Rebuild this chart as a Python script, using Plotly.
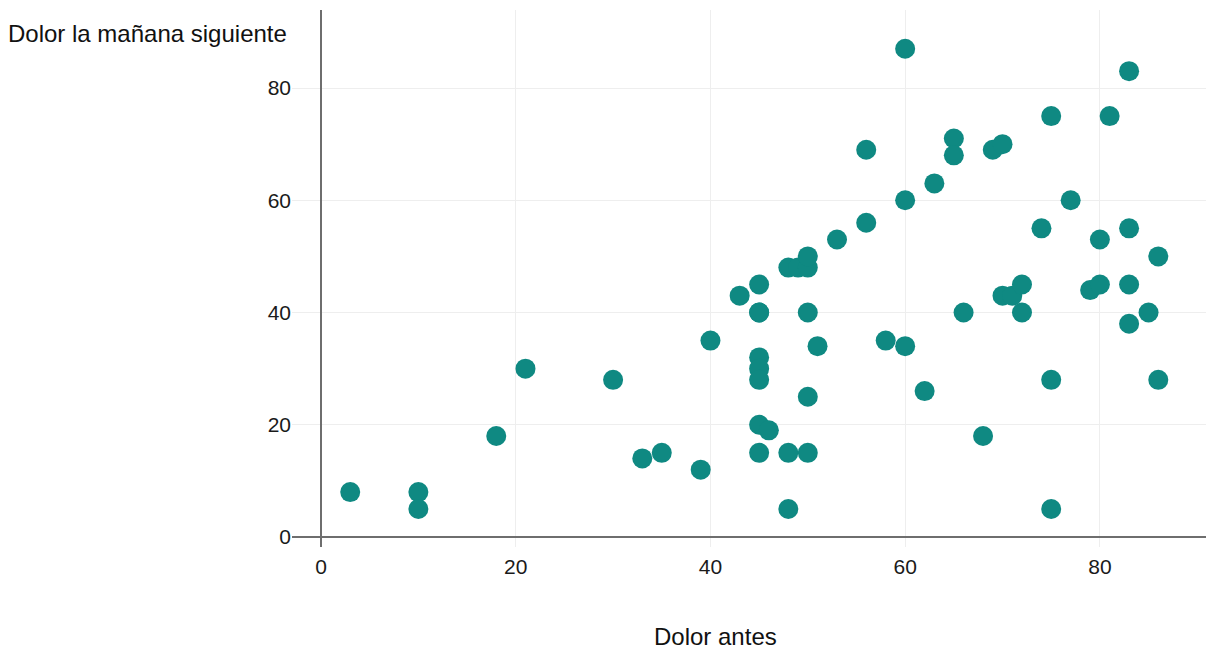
import plotly.graph_objects as go

# Pain scores: before (x) and the following morning (y)
dolor_antes = [3, 10, 10, 18, 21, 30, 33, 35, 39, 40,
               43, 45, 45, 45, 45, 45, 45, 45, 45, 46,
               48, 49, 50, 50, 48, 48, 50, 50, 50, 51,
               53, 56, 56, 58, 60, 60, 60, 62, 63, 65,
               65, 66, 68, 69, 70, 70, 71, 72, 72, 74,
               75, 75, 75, 77, 79, 80, 80, 81, 83, 83,
               83, 83, 85, 86, 86]
dolor_manana = [8, 8, 5, 18, 30, 28, 14, 15, 12, 35,
                43, 45, 40, 32, 30, 28, 20, 15, 40, 19,
                48, 48, 48, 50, 15, 5, 40, 25, 15, 34,
                53, 69, 56, 35, 87, 60, 34, 26, 63, 71,
                68, 40, 18, 69, 70, 43, 43, 45, 40, 55,
                75, 28, 5, 60, 44, 45, 53, 75, 83, 55,
                45, 38, 40, 50, 28]

x_ticks = [0, 20, 40, 60, 80]
y_ticks = [0, 20, 40, 60, 80]

FONT = "Liberation Sans, Arial, sans-serif"
TEAL = "#0F8982"

fig = go.Figure(
    go.Scatter(
        x=dolor_antes,
        y=dolor_manana,
        mode="markers",
        marker=dict(size=20, color=TEAL, line=dict(width=0)),
        hoverinfo="x+y",
    )
)

axis_common = dict(
    showgrid=True,
    gridcolor="#EEEEEE",
    gridwidth=1,
    zeroline=True,
    zerolinecolor="#6E6E6E",
    zerolinewidth=2,
    showline=False,
    tickfont=dict(family=FONT, size=21, color="#1A1A1A"),
)

fig.update_xaxes(range=[-2.98, 90.9], tickvals=x_ticks,
                 ticks="outside", ticklen=1, tickcolor="rgba(0,0,0,0)",
                 **axis_common)
fig.update_yaxes(range=[-1.78, 93.9], tickvals=y_ticks, ticks="", **axis_common)

fig.update_layout(
    width=1206,
    height=650,
    margin=dict(l=292, r=0, t=10, b=103),
    paper_bgcolor="white",
    plot_bgcolor="white",
    showlegend=False,
    font=dict(family=FONT, color="#111111"),
    annotations=[
        dict(
            text="Dolor la mañana siguiente",
            xref="paper", yref="paper",
            x=-286 / 914, y=1 - 23 / 537,
            xanchor="left", yanchor="middle",
            showarrow=False,
            font=dict(family=FONT, size=24, color="#111111"),
        ),
        dict(
            text="Dolor antes",
            xref="paper", yref="paper",
            x=(715 - 292) / 914, y=-(636 - 547) / 537,
            xanchor="center", yanchor="middle",
            showarrow=False,
            font=dict(family=FONT, size=24, color="#111111"),
        ),
    ],
)

fig.write_html("out.html")
